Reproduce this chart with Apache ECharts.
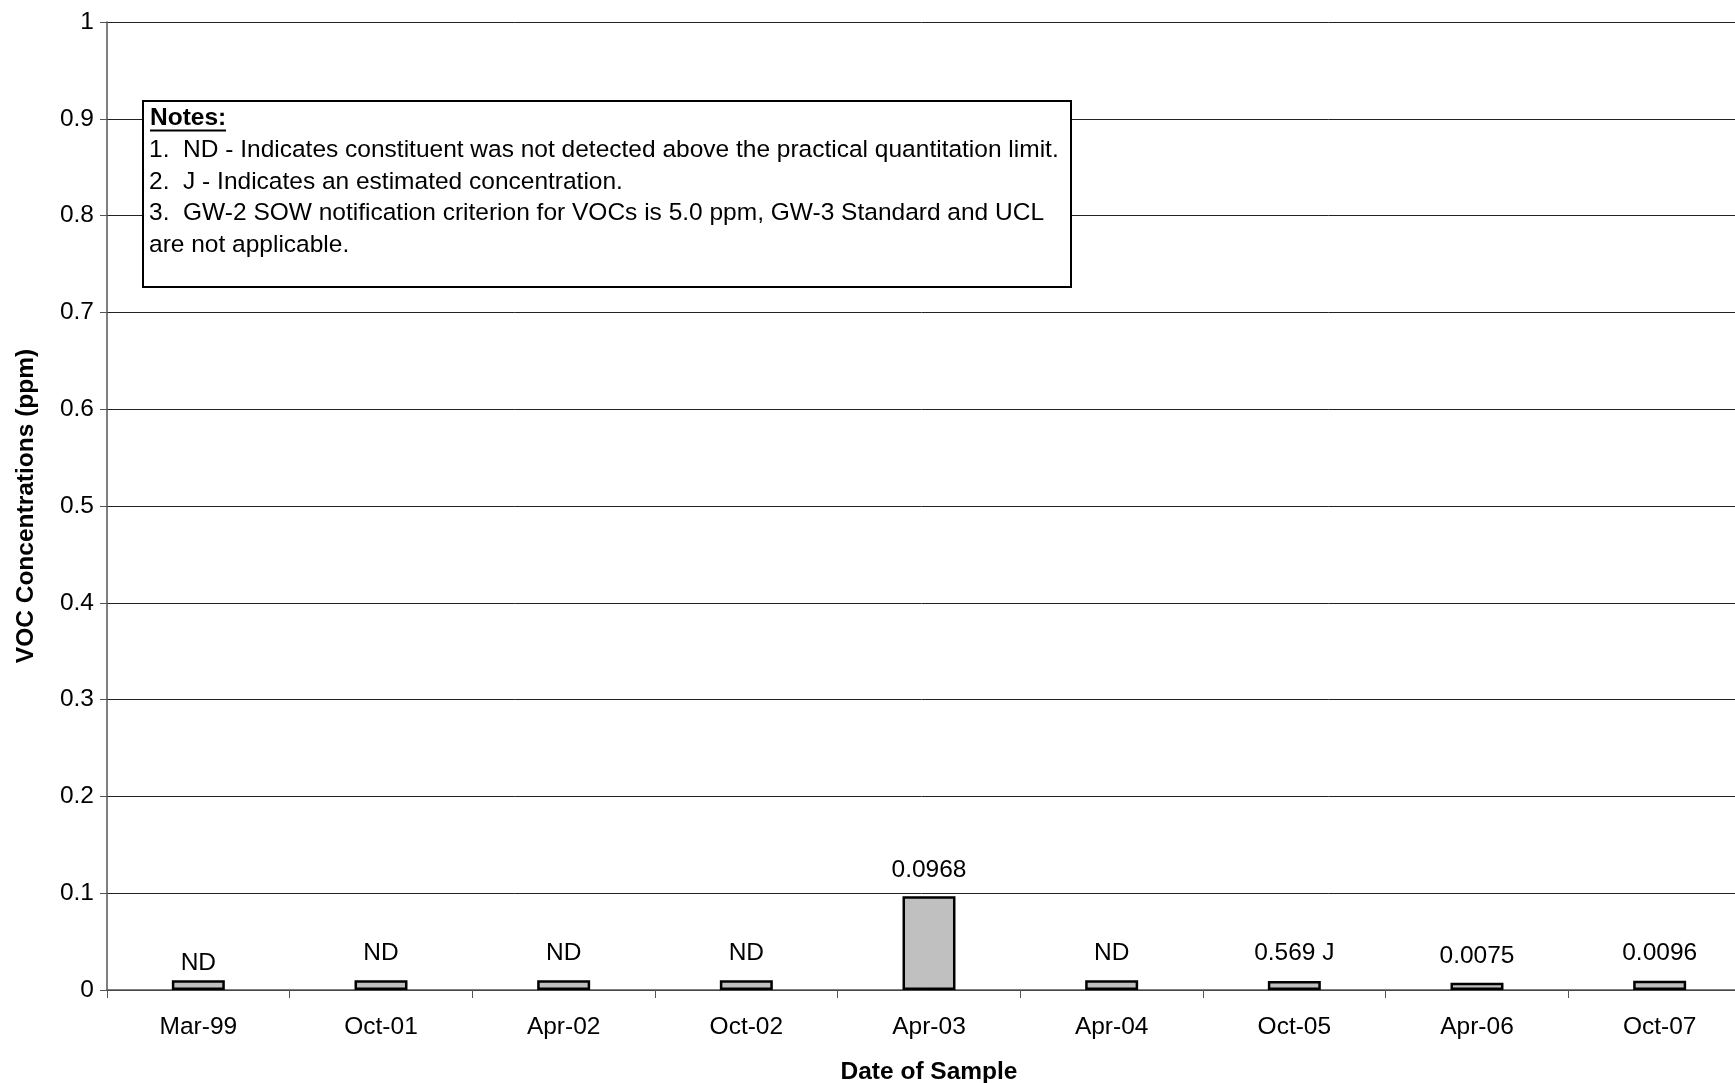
<!DOCTYPE html>
<html>
<head>
<meta charset="utf-8">
<script src="https://cdn.jsdelivr.net/npm/echarts@6/dist/echarts.min.js"></script>
<style>
  html, body { margin: 0; padding: 0; background: #fff; overflow: hidden; }
  #chart { width: 1735px; height: 1083px; }
</style>
</head>
<body>
<div id="chart"></div>
<script>
// Sampling dates on the x axis
const sampleDates = ['Mar-99', 'Oct-01', 'Apr-02', 'Oct-02', 'Apr-03', 'Apr-04', 'Oct-05', 'Apr-06', 'Oct-07'];
// VOC concentration per sampling event (ppm); ND events plotted at the reporting limit
const vocValues = [0.01, 0.01, 0.01, 0.01, 0.0968, 0.01, 0.0093, 0.0075, 0.0096];
// Text shown above each bar
const barLabels = ['ND', 'ND', 'ND', 'ND', '0.0968', 'ND', '0.569 J', '0.0075', '0.0096'];
// Gap between bar top and its label
const labelGaps = [5, 15, 15, 15, 14, 15, 15, 14, 15];

const notesLines = [
  '1.  ND - Indicates constituent was not detected above the practical quantitation limit.',
  '2.  J - Indicates an estimated concentration.',
  '3.  GW-2 SOW notification criterion for VOCs is 5.0 ppm, GW-3 Standard and UCL',
  'are not applicable.'
];

const FONT = 'Liberation Sans, Arial, sans-serif';
const FS = 24.5;

const chart = echarts.init(document.getElementById('chart'), null, { renderer: 'canvas' });

const barData = vocValues.map((v, i) => ({
  value: v,
  label: { formatter: barLabels[i], distance: labelGaps[i] }
}));

const noteTexts = notesLines.map((t, i) => ({
  type: 'text',
  z: 101,
  x: 6,
  y: 49 + i * 31.8,
  style: { text: t, fill: '#000', fontSize: FS, fontFamily: FONT, verticalAlign: 'middle' }
}));

chart.setOption({
  backgroundColor: '#fff',
  animation: false,
  // plot area runs slightly past the right edge of the page
  grid: { left: 107, top: 22, bottom: 93, width: 1644, outerBoundsMode: 'none', containLabel: false },
  xAxis: {
    type: 'category',
    data: sampleDates,
    name: 'Date of Sample',
    nameLocation: 'middle',
    nameGap: 70,
    nameTextStyle: { fontSize: FS, fontWeight: 'bold', fontFamily: FONT, color: '#000' },
    axisLine: { lineStyle: { color: '#555', width: 1.5 } },
    axisTick: { show: true, length: 8, lineStyle: { color: '#555' } },
    axisLabel: { fontSize: FS, fontFamily: FONT, color: '#000', margin: 25 },
    splitLine: { show: false }
  },
  yAxis: {
    type: 'value',
    min: 0,
    max: 1,
    interval: 0.1,
    name: 'VOC Concentrations (ppm)',
    nameLocation: 'middle',
    nameGap: 68,
    nameTextStyle: { fontSize: FS, fontWeight: 'bold', fontFamily: FONT, color: '#000' },
    axisLine: { show: true, lineStyle: { color: '#555', width: 1.5 } },
    axisTick: { show: true, length: 7, lineStyle: { color: '#555' } },
    axisLabel: { fontSize: FS, fontFamily: FONT, color: '#000', margin: 13 },
    splitLine: { show: true, lineStyle: { color: '#222', width: 1 } }
  },
  series: [{
    type: 'bar',
    data: barData,
    barWidth: '29%',
    itemStyle: { color: '#C0C0C0', borderColor: '#000', borderWidth: 2.5 },
    label: {
      show: true,
      position: 'top',
      fontSize: FS,
      fontFamily: FONT,
      color: '#000'
    }
  }],
  graphic: [{
    type: 'group',
    x: 143,
    y: 101,
    z: 100,
    children: [
      {
        type: 'rect',
        z: 100,
        shape: { x: 0, y: 0, width: 928, height: 186 },
        style: { fill: '#fff', stroke: '#000', lineWidth: 2 }
      },
      {
        type: 'text',
        z: 101,
        x: 7,
        y: 17.7,
        style: { text: 'Notes:', fill: '#000', fontSize: FS, fontWeight: 'bold', fontFamily: FONT, verticalAlign: 'middle' }
      },
      {
        type: 'line',
        z: 101,
        shape: { x1: 7, y1: 29.5, x2: 83, y2: 29.5 },
        style: { stroke: '#000', lineWidth: 2 }
      }
    ].concat(noteTexts)
  }]
});
</script>
</body>
</html>
